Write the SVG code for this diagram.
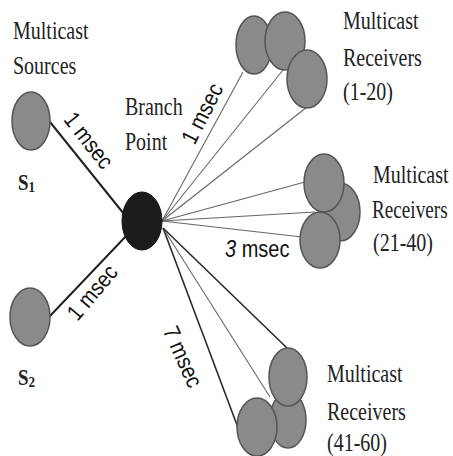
<svg xmlns="http://www.w3.org/2000/svg" width="453" height="456" viewBox="0 0 453 456">
<style>
.node{fill:#8a8a8a;stroke:#555;stroke-width:1.5}
.bp{fill:#1c1c1c;stroke:#111;stroke-width:1}
.lbl{font-family:"Liberation Serif","Times New Roman",serif;font-size:20px;fill:#222}
.sub{font-family:"Liberation Serif","Times New Roman",serif;font-weight:bold;fill:#222}
.ms{font-family:"Liberation Sans",Arial,sans-serif;font-size:20px;fill:#111}
.thick{stroke:#222;stroke-width:2;fill:none}
.thin{stroke:#666;stroke-width:1.1;fill:none}
.dark{stroke:#2a2a2a;stroke-width:1.6;fill:none}
</style>
<rect width="453" height="456" fill="#fff"/>
<g id="connectors">
<line class="thick" x1="50" y1="122" x2="128" y2="219"/>
<line class="thick" x1="50" y1="316" x2="128" y2="234"/>
<line class="thin" x1="162" y1="221" x2="243" y2="72"/>
<line class="thin" x1="162" y1="221" x2="283" y2="70"/>
<line class="thin" x1="162" y1="221" x2="307" y2="107"/>
<line class="thin" x1="162" y1="221" x2="305" y2="182"/>
<line class="thin" x1="162" y1="221" x2="315" y2="212"/>
<line class="thin" x1="162" y1="221" x2="302" y2="237"/>
<line class="dark" x1="163" y1="228" x2="237" y2="425"/>
<line class="thin" x1="163" y1="228" x2="270" y2="397"/>
<line class="dark" x1="163" y1="228" x2="287" y2="348"/>
</g>
<g id="s1"><ellipse class="node" cx="31" cy="121" rx="19" ry="29"/>
<text class="sub" transform="translate(18,190) scale(1,1.2)" font-size="19">S<tspan font-size="13" dy="2">1</tspan></text></g>
<g id="s2"><ellipse class="node" cx="30" cy="317" rx="20" ry="29"/>
<text class="sub" transform="translate(18,385) scale(1,1.2)" font-size="19">S<tspan font-size="13" dy="2">2</tspan></text></g>
<g id="sources-label">
<text class="lbl" transform="translate(13,39) scale(1,1.3)">Multicast</text>
<text class="lbl" transform="translate(13,74) scale(1,1.3)">Sources</text>
</g>
<g id="branch"><ellipse class="bp" cx="142" cy="221" rx="20" ry="29"/>
<text class="lbl" transform="translate(125,115) scale(1,1.3)">Branch</text>
<text class="lbl" transform="translate(125,150) scale(1,1.3)">Point</text></g>
<g id="recv1">
<ellipse class="node" cx="254" cy="45" rx="18" ry="29"/>
<ellipse class="node" cx="285" cy="41" rx="20" ry="29"/>
<ellipse class="node" cx="307" cy="79" rx="20" ry="29"/>
<text class="lbl" transform="translate(343,29) scale(1,1.3)">Multicast</text>
<text class="lbl" transform="translate(343,66) scale(1,1.3)">Receivers</text>
<text class="lbl" transform="translate(343,100) scale(1,1.3)">(1-20)</text>
</g>
<g id="recv2">
<ellipse class="node" cx="340" cy="212" rx="20" ry="29"/>
<ellipse class="node" cx="324" cy="183" rx="20" ry="29"/>
<ellipse class="node" cx="320" cy="240" rx="20" ry="28"/>
<text class="lbl" transform="translate(373,183) scale(1,1.3)">Multicast</text>
<text class="lbl" transform="translate(372,218) scale(0.96,1.3)">Receivers</text>
<text class="lbl" transform="translate(373,251) scale(1,1.3)">(21-40)</text>
</g>
<g id="recv3">
<ellipse class="node" cx="288" cy="420" rx="18" ry="28"/>
<ellipse class="node" cx="288" cy="377" rx="19" ry="29"/>
<ellipse class="node" cx="257" cy="427" rx="20" ry="29"/>
<text class="lbl" transform="translate(327,382) scale(1,1.3)">Multicast</text>
<text class="lbl" transform="translate(327,420) scale(1,1.3)">Receivers</text>
<text class="lbl" transform="translate(327,451) scale(1,1.3)">(41-60)</text>
</g>
<g id="delays">
<text class="ms" transform="translate(88,141) rotate(52) scale(1,1.15)" x="0" y="6" text-anchor="middle">1 msec</text>
<text class="ms" transform="translate(93,293) rotate(-50) scale(1,1.15)" x="0" y="6" text-anchor="middle">1 msec</text>
<text class="ms" transform="translate(203,114) rotate(-63) scale(1,1.15)" x="0" y="6" text-anchor="middle">1 msec</text>
<text class="ms" transform="translate(225,257) scale(1,1.15)"><tspan font-style="italic">3</tspan> msec</text>
<text class="ms" transform="translate(182,357) rotate(66) scale(1,1.15)" x="0" y="6" text-anchor="middle">7 msec</text>
</g>
</svg>
